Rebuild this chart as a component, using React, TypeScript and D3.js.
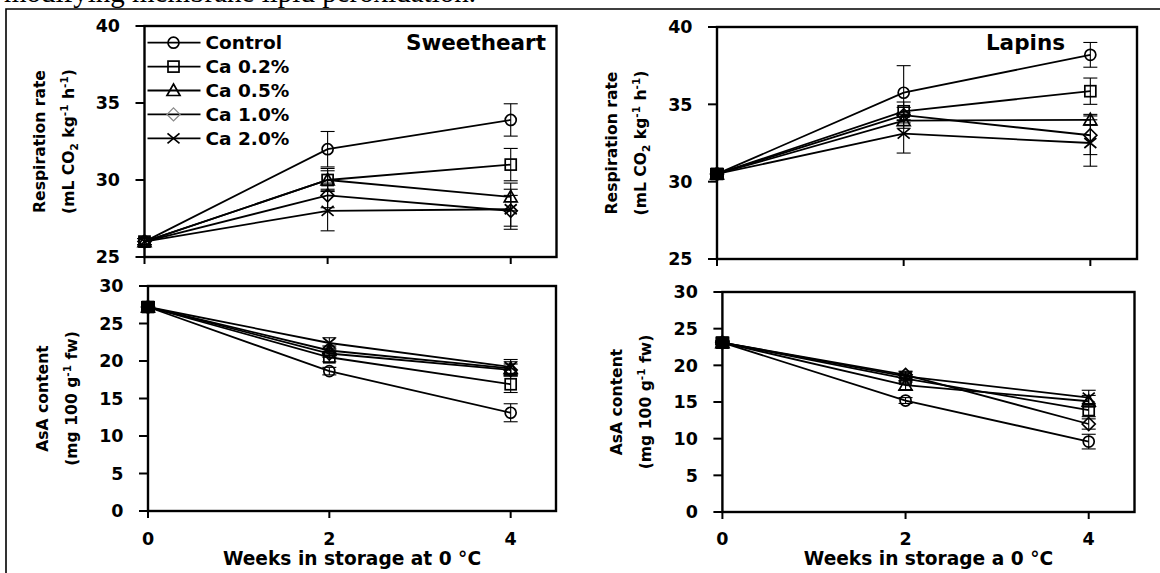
import React from "react";
import * as d3 from "d3";

// ---------- data ----------
const WEEKS = [0, 2, 4];
const TREATMENTS = ["Control", "Ca 0.2%", "Ca 0.5%", "Ca 1.0%", "Ca 2.0%"];
const MARKERS = ["circle", "square", "triangle", "diamond", "cross"];

const RESP_TICKS = [25, 30, 35, 40];
const ASA_TICKS = [0, 5, 10, 15, 20, 25, 30];
const WEEK_TICKS = [0, 2, 4];

// Sweetheart – respiration rate (mL CO2 kg-1 h-1)
const SW_RESP_MEAN = [
  [26.0, 32.0, 33.9],
  [26.0, 30.0, 31.0],
  [26.0, 30.0, 28.9],
  [26.0, 29.0, 28.0],
  [26.0, 28.0, 28.1],
];
const SW_RESP_ERR = [
  [0.2, 1.15, 1.05],
  [0.2, 0.75, 1.05],
  [0.2, 0.6, 0.9],
  [0.2, 0.8, 1.0],
  [0.2, 1.3, 1.3],
];

// Lapins – respiration rate
const LA_RESP_MEAN = [
  [30.5, 35.75, 38.2],
  [30.5, 34.55, 35.85],
  [30.5, 33.95, 34.0],
  [30.5, 34.3, 33.0],
  [30.5, 33.1, 32.5],
];
const LA_RESP_ERR = [
  [0.1, 1.75, 0.8],
  [0.1, 0.6, 0.85],
  [0.1, 0.5, 0.35],
  [0.1, 0.5, 1.25],
  [0.1, 1.25, 1.5],
];

// Sweetheart – AsA content (mg 100 g-1 fw)
const SW_ASA_MEAN = [
  [27.2, 18.65, 13.1],
  [27.2, 20.5, 16.9],
  [27.2, 21.4, 19.0],
  [27.2, 21.0, 18.8],
  [27.2, 22.4, 19.2],
];
const SW_ASA_ERR = [
  [0.3, 0.5, 1.2],
  [0.3, 0.6, 1.1],
  [0.3, 0.6, 0.9],
  [0.3, 0.5, 0.8],
  [0.3, 0.7, 1.0],
];

// Lapins – AsA content
const LA_ASA_MEAN = [
  [23.1, 15.2, 9.6],
  [23.1, 18.2, 13.9],
  [23.1, 17.3, 15.1],
  [23.1, 18.7, 12.0],
  [23.1, 18.5, 15.6],
];
const LA_ASA_ERR = [
  [0.2, 0.4, 1.0],
  [0.2, 0.5, 0.9],
  [0.2, 0.6, 0.8],
  [0.2, 0.5, 0.7],
  [0.2, 0.6, 1.0],
];

// ---------- drawing ----------
const FONT = "'DejaVu Sans', Verdana, sans-serif";

function Marker({ type, x, y, color = "#000", sw = 1.7 }: any) {
  const common = { fill: "none", stroke: color, strokeWidth: sw };
  switch (type) {
    case "circle":
      return <circle cx={x} cy={y} r={5.5} {...common} />;
    case "square":
      return <rect x={x - 5.5} y={y - 5.5} width={11} height={11} {...common} />;
    case "triangle":
      return <path d={`M${x},${y - 6.5}L${x + 6.5},${y + 5}L${x - 6.5},${y + 5}Z`} {...common} />;
    case "diamond":
      return <path d={`M${x},${y - 6.5}L${x + 6.5},${y}L${x},${y + 6.5}L${x - 6.5},${y}Z`} {...common} />;
    default:
      return <path d={`M${x - 6},${y - 5}L${x + 6},${y + 5}M${x - 6},${y + 5}L${x + 6},${y - 5}`} {...common} />;
  }
}

function Panel({ p }: any) {
  const x = d3.scaleLinear().domain([0, 4.5]).range([p.left, p.right]);
  const y = d3.scaleLinear().domain(p.yDomain).range([p.bottom, p.top]);
  const line = d3
    .line<number>()
    .x((_, i) => x(WEEKS[i]))
    .y((d) => y(d));
  const cy = (p.top + p.bottom) / 2;
  const cx = (p.left + p.right) / 2;
  return (
    <g>
      {p.mean.map((s: number[], k: number) => (
        <path key={"l" + k} d={line(s) || ""} fill="none" stroke="#000" strokeWidth={1.8} />
      ))}
      {p.mean.map((s: number[], k: number) =>
        s.map((v, i) => {
          const e = p.err[k][i];
          const xx = x(WEEKS[i]);
          const y1 = y(v + e);
          const y2 = y(v - e);
          return (
            <g key={"e" + k + "-" + i} stroke="#000" strokeWidth={1.1}>
              <line x1={xx} x2={xx} y1={y1} y2={y2} />
              <line x1={xx - 7} x2={xx + 7} y1={y1} y2={y1} />
              <line x1={xx - 7} x2={xx + 7} y1={y2} y2={y2} />
            </g>
          );
        })
      )}
      {p.mean.map((s: number[], k: number) =>
        s.map((v, i) => <Marker key={"m" + k + "-" + i} type={MARKERS[k]} x={x(WEEKS[i])} y={y(v)} />)
      )}
      {p.firstFilled && (
        <rect x={x(WEEKS[0]) - 7} y={y(p.mean[0][0]) - 6} width={14} height={12} fill="#000" />
      )}
      <rect
        x={p.left}
        y={p.top}
        width={p.right - p.left}
        height={p.bottom - p.top}
        fill="none"
        stroke="#000"
        strokeWidth={2.4}
      />
      {p.ticks.map((t: number) => (
        <g key={"yt" + t}>
          <line x1={p.left - 9} x2={p.left} y1={y(t)} y2={y(t)} stroke="#000" strokeWidth={2} />
          <text
            x={p.left - 24.5}
            y={y(t)}
            dy="0.36em"
            textAnchor="end"
            fontFamily={FONT}
            fontWeight="bold"
            fontSize={17.5}
            fill="#000"
          >
            {t}
          </text>
        </g>
      ))}
      {WEEK_TICKS.map((t) => (
        <g key={"xt" + t}>
          <line x1={x(t)} x2={x(t)} y1={p.bottom} y2={p.bottom + 7} stroke="#000" strokeWidth={2} />
          {p.xLabels && (
            <text x={x(t)} y={545} textAnchor="middle" fontFamily={FONT} fontWeight="bold" fontSize={17.5} fill="#000">
              {t}
            </text>
          )}
        </g>
      ))}
      {p.xTitle && (
        <text x={cx} y={565} textAnchor="middle" fontFamily={FONT} fontWeight="bold" fontSize={18.6} fill="#000">
          {p.xTitle}
        </text>
      )}
      <g transform={`translate(${p.left - 100},${cy}) rotate(-90)`}>
        <text textAnchor="middle" fontFamily={FONT} fontWeight="bold" fontSize={15.6} fill="#000">
          {p.yTitle1}
        </text>
      </g>
      <g transform={`translate(${p.left - 71},${cy}) rotate(-90)`}>
        <text textAnchor="middle" fontFamily={FONT} fontWeight="bold" fontSize={15.6} fill="#000">
          {p.yTitle2}
        </text>
      </g>
      <text x={p.cultivarX} y={50} textAnchor="end" fontFamily={FONT} fontWeight="bold" fontSize={21.5} fill="#000">
        {p.cultivar}
      </text>
      {p.legend &&
        TREATMENTS.map((name, k) => {
          const ly = 42.7 + k * 23.9;
          return (
            <g key={"lg" + k}>
              <line x1={p.left + 3} x2={p.left + 56} y1={ly} y2={ly} stroke="#000" strokeWidth={1.8} />
              <Marker
                type={MARKERS[k]}
                x={p.left + 29}
                y={ly}
                color={MARKERS[k] === "diamond" ? "#8a8a8a" : "#000"}
                sw={MARKERS[k] === "diamond" ? 1.3 : 1.7}
              />
              <text x={p.left + 61} y={ly} dy="0.36em" fontFamily={FONT} fontWeight="bold" fontSize={18.5} fill="#000">
                {name}
              </text>
            </g>
          );
        })}
    </g>
  );
}

const respTitle2 = (
  <>
    (mL CO
    <tspan fontSize={10.5} dy={4}>2</tspan>
    <tspan dy={-4}> kg</tspan>
    <tspan fontSize={10.5} dy={-6}>-1</tspan>
    <tspan dy={6}> h</tspan>
    <tspan fontSize={10.5} dy={-6}>-1</tspan>
    <tspan dy={6}>)</tspan>
  </>
);
const asaTitle2 = (
  <>
    (mg 100 g
    <tspan fontSize={10.5} dy={-6}>-1</tspan>
    <tspan dy={6}> fw)</tspan>
  </>
);

export default function App() {
  const panels = [
    {
      mean: SW_RESP_MEAN, err: SW_RESP_ERR, ticks: RESP_TICKS, yDomain: [25, 40],
      left: 144.5, right: 556.5, top: 26, bottom: 257,
      yTitle1: "Respiration rate", yTitle2: respTitle2,
      cultivar: "Sweetheart", cultivarX: 546, legend: true, firstFilled: false, xLabels: false, xTitle: null,
    },
    {
      mean: LA_RESP_MEAN, err: LA_RESP_ERR, ticks: RESP_TICKS, yDomain: [25, 40],
      left: 717, right: 1137, top: 27, bottom: 259,
      yTitle1: "Respiration rate", yTitle2: respTitle2,
      cultivar: "Lapins", cultivarX: 1065, legend: false, firstFilled: true, xLabels: false, xTitle: null,
    },
    {
      mean: SW_ASA_MEAN, err: SW_ASA_ERR, ticks: ASA_TICKS, yDomain: [0, 30],
      left: 148, right: 556, top: 286, bottom: 511,
      yTitle1: "AsA content", yTitle2: asaTitle2,
      cultivar: "", cultivarX: 0, legend: false, firstFilled: true, xLabels: true,
      xTitle: "Weeks in storage at 0 °C",
    },
    {
      mean: LA_ASA_MEAN, err: LA_ASA_ERR, ticks: ASA_TICKS, yDomain: [0, 30],
      left: 722.4, right: 1134.5, top: 292, bottom: 512,
      yTitle1: "AsA content", yTitle2: asaTitle2,
      cultivar: "", cultivarX: 0, legend: false, firstFilled: true, xLabels: true,
      xTitle: "Weeks in storage a 0 °C",
    },
  ];
  return (
    <div style={{ position: "absolute", left: 0, top: 0 }}>
      <svg width={1160} height={573} style={{ display: "block", background: "#fff" }}>
        <rect width={1160} height={573} fill="#fff" />
        <text x={4} y={2} fontFamily="'Liberation Serif', 'Times New Roman', serif" fontSize={29} fill="#000">
          modifying membrane lipid peroxidation.
        </text>
        <path d="M6,600 L6,9 L1170,9" fill="none" stroke="#000" strokeWidth={1.6} />
        {panels.map((p, i) => (
          <Panel key={i} p={p} />
        ))}
      </svg>
    </div>
  );
}
